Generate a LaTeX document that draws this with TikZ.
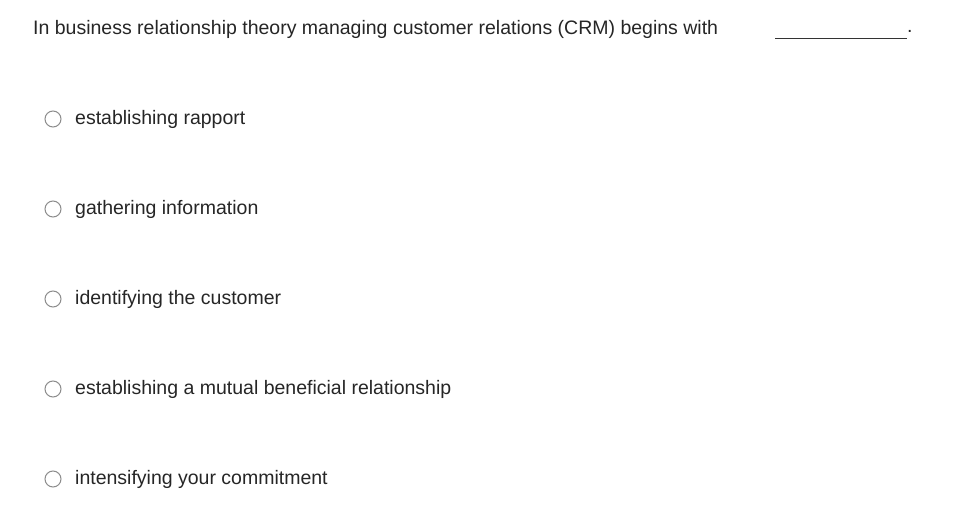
\documentclass[tikz,border=0pt]{standalone}
\usepackage{fontspec}
\setmainfont{Liberation Sans}
\begin{document}
\begin{tikzpicture}[x=1pt,y=-1pt,
  txt/.style={anchor=west,inner sep=0pt,font=\fontsize{19.5}{22}\selectfont,text=black!85},
  radio/.style={circle,draw=black!45,line width=1pt,minimum size=16pt,inner sep=0pt}]
\useasboundingbox[fill=white] (0,0) rectangle (970,530);
\node[txt] (q) at (33,29) {In business relationship theory managing customer relations (CRM) begins with};
\coordinate (b1) at (775,38);
\coordinate (b2) at (907,38);
\draw[line width=0.8pt,black!80] (b1) -- (b2);
\node[txt] (dot) at (907,31) {.};
\foreach \i/\t in {0/establishing rapport,1/gathering information,2/identifying the customer,3/establishing a mutual beneficial relationship,4/intensifying your commitment}{
  \node[radio] (r\i) at (53,{119+90*\i}) {};
  \node[txt] (o\i) at (75,{119+90*\i}) {\t};
}
\end{tikzpicture}
\end{document}
